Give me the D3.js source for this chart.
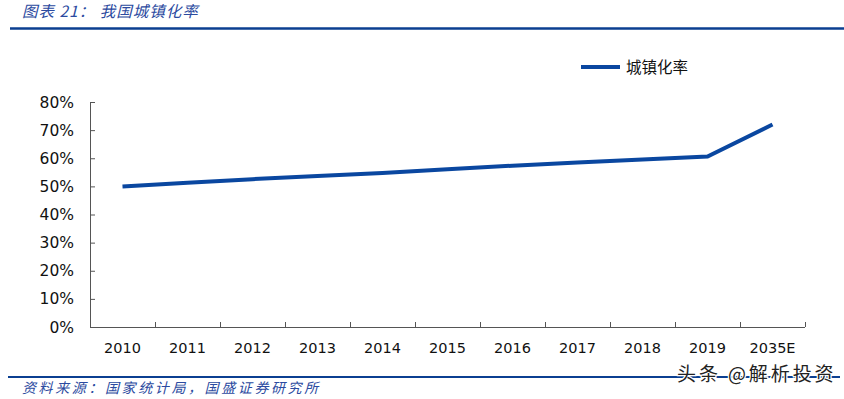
<!DOCTYPE html>
<html>
<head>
<meta charset="utf-8">
<script src="https://cdn.jsdelivr.net/npm/d3@7"></script>
<style>
  body { margin: 0; background: #fff; }
  svg { display: block; }
</style>
</head>
<body>
<div id="chart"></div>
<script>
const width = 844;
const height = 399;

// data
const years = ['2010', '2011', '2012', '2013', '2014', '2015', '2016', '2017', '2018', '2019', '2035E'];
const urbanRate = [49.95, 51.27, 52.57, 53.73, 54.77, 56.1, 57.35, 58.52, 59.58, 60.6, 72];
const yTicks = [0, 10, 20, 30, 40, 50, 60, 70, 80];
const seriesName = '城镇化率';

const blue = '#0a47a0';
const cnFont = '"Noto Sans CJK SC", sans-serif';
const numFont = '"DejaVu Sans", sans-serif';

const svg = d3.select('#chart').append('svg')
  .attr('width', width)
  .attr('height', height);

// header
svg.append('text')
  .attr('x', 22).attr('y', 17)
  .attr('font-family', cnFont)
  .attr('font-size', 15.5)
  .attr('font-style', 'italic')
  .attr('letter-spacing', 1)
  .attr('fill', '#2b4aa0')
  .text('图表 21： 我国城镇化率');

svg.append('line')
  .attr('x1', 10).attr('x2', 844)
  .attr('y1', 28.5).attr('y2', 28.5)
  .attr('stroke', '#0b3f91').attr('stroke-width', 2.5);

// chart area
const margin = { left: 90, right: 39, top: 102, bottom: 72 };
const x = d3.scaleBand()
  .domain(years)
  .range([margin.left, width - margin.right]);
const y = d3.scaleLinear()
  .domain([0, 80])
  .range([height - margin.bottom, margin.top]);

const axisColor = '#555';

// y axis
const yAxis = svg.append('g')
  .attr('transform', `translate(${margin.left},0)`)
  .call(d3.axisRight(y).tickValues(yTicks).tickSize(5).tickFormat(''));
yAxis.select('.domain').attr('stroke', axisColor).attr('d', `M0.5,${y(80)}V${y(0)}`);
yAxis.selectAll('.tick line').attr('stroke', axisColor);

svg.append('g').selectAll('text')
  .data(yTicks)
  .join('text')
  .attr('x', 74)
  .attr('y', (d) => y(d))
  .attr('dy', '0.36em')
  .attr('text-anchor', 'end')
  .attr('font-family', numFont)
  .attr('font-size', 15.5)
  .attr('fill', '#111')
  .text((d) => d + '%');

// x axis with ticks between categories
const boundaries = years.map((d) => x(d)).concat([x.range()[1]]);
const xAxis = svg.append('g');
xAxis.append('line')
  .attr('x1', margin.left).attr('x2', x.range()[1])
  .attr('y1', y(0) + 0.5).attr('y2', y(0) + 0.5)
  .attr('stroke', axisColor);
xAxis.selectAll('line.tick')
  .data(boundaries.slice(1))
  .join('line')
  .attr('class', 'tick')
  .attr('x1', (d) => d + 0.5).attr('x2', (d) => d + 0.5)
  .attr('y1', y(0)).attr('y2', y(0) - 5)
  .attr('stroke', axisColor);

xAxis.selectAll('text')
  .data(years)
  .join('text')
  .attr('x', (d) => x(d) + x.bandwidth() / 2)
  .attr('y', y(0) + 21)
  .attr('dy', '0.36em')
  .attr('text-anchor', 'middle')
  .attr('font-family', numFont)
  .attr('font-size', 14.5)
  .attr('fill', '#111')
  .text(String);

// line
const line = d3.line()
  .x((d, i) => x(years[i]) + x.bandwidth() / 2)
  .y((d) => y(d));

svg.append('path')
  .datum(urbanRate)
  .attr('d', line)
  .attr('fill', 'none')
  .attr('stroke', blue)
  .attr('stroke-width', 4);

// legend
svg.append('line')
  .attr('x1', 581).attr('x2', 620)
  .attr('y1', 67).attr('y2', 67)
  .attr('stroke', blue).attr('stroke-width', 4);
svg.append('text')
  .attr('x', 626).attr('y', 67)
  .attr('dy', '0.36em')
  .attr('font-family', cnFont)
  .attr('font-size', 15.5)
  .attr('fill', '#111')
  .text(seriesName);

// footer
svg.append('line')
  .attr('x1', 8).attr('x2', 840)
  .attr('y1', 377).attr('y2', 377)
  .attr('stroke', '#0b3f91').attr('stroke-width', 2);

svg.append('text')
  .attr('x', 22).attr('y', 393)
  .attr('font-family', cnFont)
  .attr('font-size', 14)
  .attr('font-style', 'italic')
  .attr('letter-spacing', 2.6)
  .attr('fill', '#2b4aa0')
  .text('资料来源：国家统计局，国盛证券研究所');

// watermark
svg.append('text')
  .attr('x', 677).attr('y', 381)
  .attr('font-family', cnFont)
  .attr('font-size', 19)
  .attr('letter-spacing', 2.9)
  .attr('fill', '#222')
  .attr('stroke', '#fff').attr('stroke-width', 2.5)
  .attr('paint-order', 'stroke')
  .text('头条 @解析投资');
</script>
</body>
</html>
